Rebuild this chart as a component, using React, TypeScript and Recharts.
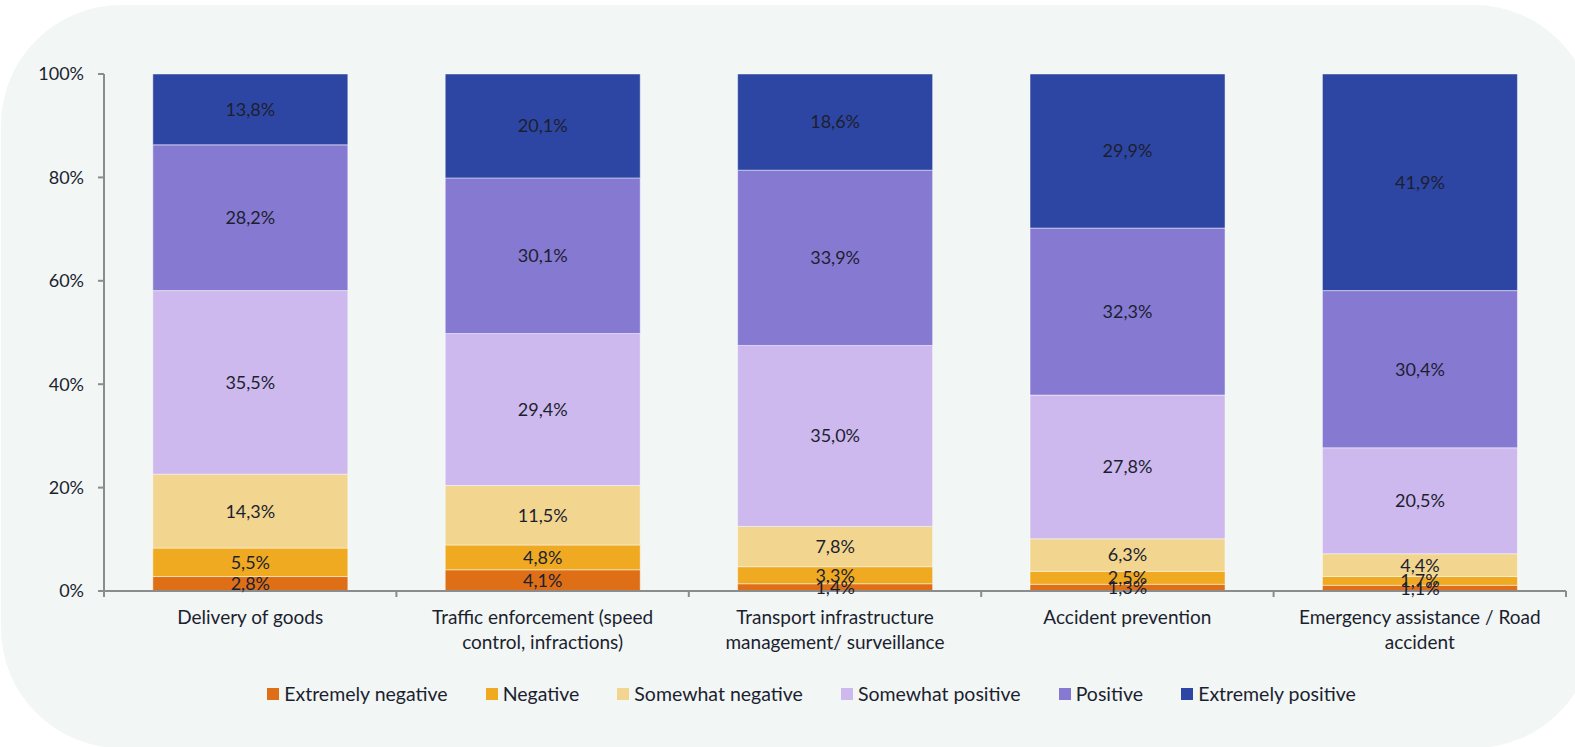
import { BarChart, Bar, XAxis, YAxis, Legend, LabelList } from 'recharts';

const categories = [
  'Delivery of goods',
  'Traffic enforcement (speed\ncontrol, infractions)',
  'Transport infrastructure\nmanagement/ surveillance',
  'Accident prevention',
  'Emergency assistance / Road\naccident',
];

const extremelyNegative = [2.8, 4.1, 1.4, 1.3, 1.1];
const negative = [5.5, 4.8, 3.3, 2.5, 1.7];
const somewhatNegative = [14.3, 11.5, 7.8, 6.3, 4.4];
const somewhatPositive = [35.5, 29.4, 35.0, 27.8, 20.5];
const positive = [28.2, 30.1, 33.9, 32.3, 30.4];
const extremelyPositive = [13.8, 20.1, 18.6, 29.9, 41.9];

const yTicks = [0, 20, 40, 60, 80, 100];

const series = [
  { key: 'en', name: 'Extremely negative', values: extremelyNegative, color: '#de6f17' },
  { key: 'n', name: 'Negative', values: negative, color: '#f0aa22' },
  { key: 'sn', name: 'Somewhat negative', values: somewhatNegative, color: '#f2d58f' },
  { key: 'sp', name: 'Somewhat positive', values: somewhatPositive, color: '#cdb9ee' },
  { key: 'p', name: 'Positive', values: positive, color: '#8679d2' },
  { key: 'ep', name: 'Extremely positive', values: extremelyPositive, color: '#2e46a3' },
];

const data = categories.map((c, i) => {
  const row: Record<string, string | number> = { category: c };
  series.forEach(s => {
    row[s.key] = s.values[i];
  });
  return row;
});

const FONT = 'Lato, "Open Sans", sans-serif';
const TEXT = '#1c1f30';
const AXIS = '#8c8c8c';

const fmt = (v: number) => `${Number(v).toFixed(1).replace('.', ',')}%`;

function CategoryTick(props: any) {
  const { x, y, payload, index, visibleTicksCount } = props;
  const half = payload?.offset ?? 0;
  const lines = String(payload.value).split('\n');
  return (
    <g>
      <line x1={x - half} y1={y} x2={x - half} y2={y + 6} stroke={AXIS} strokeWidth={2} />
      {index === visibleTicksCount - 1 && (
        <line x1={x + half} y1={y} x2={x + half} y2={y + 6} stroke={AXIS} strokeWidth={2} />
      )}
      <text textAnchor="middle" fontFamily={FONT} fontSize={19} fill={TEXT}>
        {lines.map((l, i) => (
          <tspan key={i} x={x} y={y + 33 + i * 25}>
            {l}
          </tspan>
        ))}
      </text>
    </g>
  );
}

function LegendContent() {
  return (
    <div
      style={{
        display: 'flex',
        justifyContent: 'center',
        gap: 38,
        paddingLeft: 48,
        fontFamily: FONT,
        fontSize: 19.5,
        color: TEXT,
      }}
    >
      {series.map(s => (
        <div key={s.key} style={{ display: 'flex', alignItems: 'center' }}>
          <span style={{ width: 12, height: 12, background: s.color, marginRight: 5, display: 'inline-block' }} />
          {s.name}
        </div>
      ))}
    </div>
  );
}

export default function App() {
  return (
    <div style={{ position: 'fixed', left: 0, top: 0, width: 1575, height: 747, overflow: 'hidden', background: '#fff' }}>
      <div
        style={{
          position: 'absolute',
          left: 1,
          top: 5,
          width: 1593,
          height: 743,
          borderRadius: 120,
          background: '#f2f6f5',
        }}
      />
      <div style={{ position: 'absolute', left: 0, top: 0 }}>
        <BarChart
          width={1575}
          height={747}
          data={data}
          margin={{ top: 74, right: 9, left: 44, bottom: 76 }}
          barCategoryGap="16.7%"
        >
          <XAxis
            dataKey="category"
            height={80}
            interval={0}
            tickLine={false}
            tickSize={0}
            tickMargin={0}
            axisLine={{ stroke: AXIS, strokeWidth: 2 }}
            tick={<CategoryTick />}
          />
          <YAxis
            width={60}
            domain={[0, 100]}
            ticks={yTicks}
            allowDataOverflow
            tickFormatter={(v: number) => `${v}%`}
            tick={{ fontSize: 18, fill: TEXT, fontFamily: FONT }}
            tickSize={6}
            tickMargin={14}
            tickLine={{ stroke: AXIS, strokeWidth: 2 }}
            axisLine={{ stroke: AXIS, strokeWidth: 2 }}
          />
          <Legend
            verticalAlign="middle"
            align="center"
            content={<LegendContent />}
            wrapperStyle={{ top: 682, left: 0, width: 1575 }}
          />
          {series.map(s => (
            <Bar
              key={s.key}
              dataKey={s.key}
              name={s.name}
              stackId="a"
              fill={s.color}
              stroke="#ffffff"
              strokeOpacity={0.45}
              strokeWidth={1}
              isAnimationActive={false}
            >
              <LabelList
                dataKey={s.key}
                position="center"
                formatter={(v: any) => fmt(v)}
                style={{ fontSize: 18, fill: TEXT, fontFamily: FONT }}
              />
            </Bar>
          ))}
        </BarChart>
      </div>
    </div>
  );
}
